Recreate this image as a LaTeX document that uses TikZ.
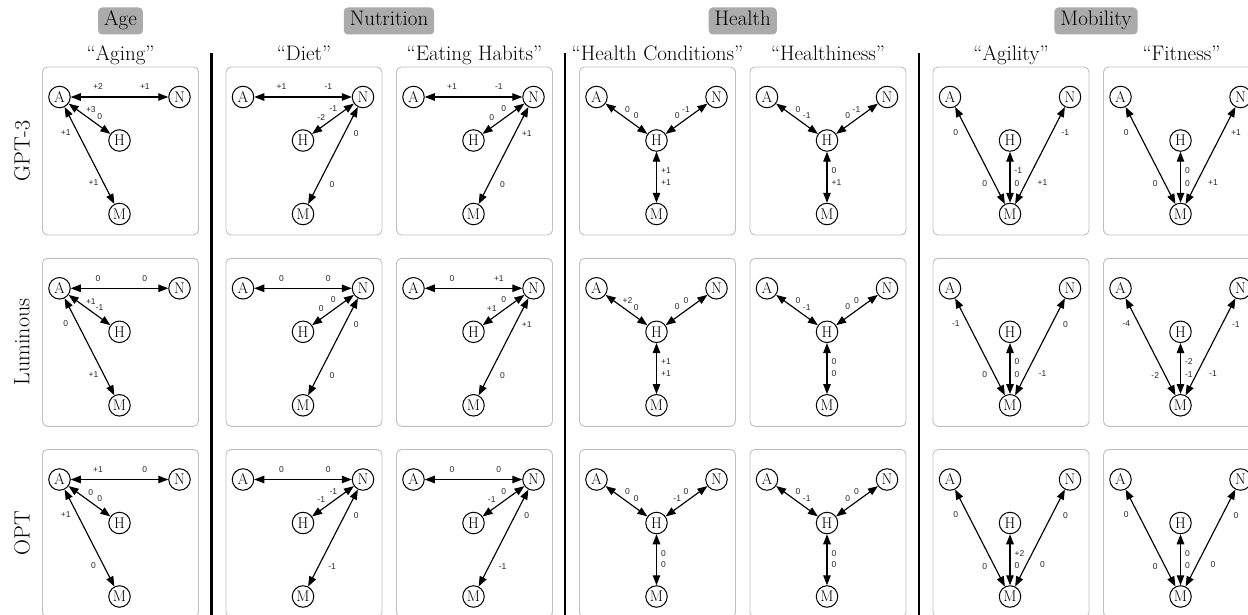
\documentclass[tikz,border=0pt]{standalone}
\usepackage{fontspec}
\newfontfamily\labfont{Liberation Sans}
\usetikzlibrary{arrows.meta}

\tikzset{
 panel/.style={draw=black!25,line width=.9pt,rounded corners=5pt},
 var/.style={circle,draw,line width=1pt,minimum size=21.5pt,inner sep=0pt,font=\fontsize{15.5}{15.5}\selectfont},
 link/.style={<->,>={Triangle[length=10pt,width=7.5pt]},line width=1.15pt},
 lab/.style={font=\labfont\fontsize{8.5}{8.5}\selectfont,text=black!85,inner sep=.5pt},
 group/.style={fill=black!33,rounded corners=4pt,font=\fontsize{21}{21}\selectfont,text height=14pt,text depth=4pt,inner xsep=6pt,inner ysep=4.5pt},
 title/.style={font=\fontsize{21}{21}\selectfont,anchor=base},
 model/.style={font=\fontsize{22}{22}\selectfont,rotate=90},
 divider/.style={line width=2.5pt},
}

%% one panel: box and the four variables
\newcommand{\vars}[3]{%
 \draw[panel] (#2,#3) rectangle ++(156,168);
 \node[var] (#1-A) at (#2+17,#3+30) {A};
 \node[var] (#1-N) at (#2+137,#3+30) {N};
 \node[var] (#1-H) at (#2+77,#3+73.5) {H};
 \node[var] (#1-M) at (#2+77,#3+147) {M};}
%% hub A: A-N, A-H, A-M (near A, near other)
\newcommand{\agelinks}[7]{%
 \draw[link] (#1-A) -- (#1-N) node[lab,pos=.28,yshift=10pt]{#2} node[lab,pos=.76,yshift=10pt]{#3};
 \draw[link] (#1-A) -- (#1-H) node[lab,pos=.42,xshift=4.7pt,yshift=6.5pt]{#4} node[lab,pos=.63,xshift=4.7pt,yshift=6.5pt]{#5};
 \draw[link] (#1-A) -- (#1-M) node[lab,pos=.21,xshift=-9.3pt,yshift=-4.8pt]{#6} node[lab,pos=.74,xshift=-8pt,yshift=-4.1pt]{#7};}
%% hub N: N-A, N-H, N-M (near N, near other)
\newcommand{\foodlinks}[7]{%
 \draw[link] (#1-N) -- (#1-A) node[lab,pos=.24,yshift=10pt]{#2} node[lab,pos=.72,yshift=10pt]{#3};
 \draw[link] (#1-N) -- (#1-H) node[lab,pos=.38,xshift=-4.7pt,yshift=6.5pt]{#4} node[lab,pos=.67,xshift=-4.7pt,yshift=6.5pt]{#5};
 \draw[link] (#1-N) -- (#1-M) node[lab,pos=.22,xshift=9.3pt,yshift=-4.8pt]{#6} node[lab,pos=.74,xshift=11pt,yshift=-5.6pt]{#7};}
%% hub H: H-A, H-N, H-M (near H, near other)
\newcommand{\healthlinks}[7]{%
 \draw[link] (#1-H) -- (#1-A) node[lab,pos=.38,xshift=4.7pt,yshift=6.5pt]{#2} node[lab,pos=.59,xshift=4.7pt,yshift=6.5pt]{#3};
 \draw[link] (#1-H) -- (#1-N) node[lab,pos=.39,xshift=-4.7pt,yshift=6.5pt]{#4} node[lab,pos=.60,xshift=-4.7pt,yshift=6.5pt]{#5};
 \draw[link] (#1-H) -- (#1-M) node[lab,anchor=west,pos=.37,xshift=3.5pt]{#6} node[lab,anchor=west,pos=.60,xshift=3.5pt]{#7};}
%% hub M: M-A, M-H, M-N (near M, near other)
\newcommand{\movelinks}[7]{%
 \draw[link] (#1-M) -- (#1-A) node[lab,pos=.25,xshift=-7.7pt,yshift=-4pt]{#2} node[lab,pos=.79,xshift=-9.8pt,yshift=-5pt]{#3};
 \draw[link] (#1-M) -- (#1-H) node[lab,anchor=west,pos=.38,xshift=3.5pt]{#4} node[lab,anchor=west,pos=.63,xshift=3.5pt]{#5};
 \draw[link] (#1-M) -- (#1-N) node[lab,pos=.29,xshift=13pt,yshift=-6.3pt]{#6} node[lab,pos=.79,xshift=11pt,yshift=-5.6pt]{#7};}

\begin{document}
\begin{tikzpicture}[x=1pt,y=-1pt]
 \useasboundingbox (0,0) rectangle (1248,615);
 %% group and prompt headings
 \node[group] (age) at (120.5,21) {Age};
 \node[group] (food) at (389,21) {Nutrition};
 \node[group] (health) at (742.75,21) {Health};
 \node[group] (move) at (1096,21) {Mobility};
 \node[title] (aging) at (120.5,61) {“Aging”};
 \node[title] (diet) at (304,61) {“Diet”};
 \node[title] (eating) at (474.5,61) {“Eating Habits”};
 \node[title] (cond) at (657.5,61) {“Health Conditions”};
 \node[title] (healthy) at (828,61) {“Healthiness”};
 \node[title] (agility) at (1011,61) {“Agility”};
 \node[title] (fitness) at (1181.5,61) {“Fitness”};
 %% model names
 \node[model] (gpt) at (22,151) {GPT-3};
 \node[model] (lum) at (22,342) {Luminous};
 \node[model] (opt) at (22,533) {OPT};
 %% dividers between groups
 \foreach \x in {211.7,565,919}{\draw[divider] (\x,53) -- (\x,615);}
 %% panels: 7 columns, 3 rows
 \foreach \y/\r in {67/1,258.3/2,449.5/3}{\foreach \x/\c in {42.5/a,226/b,396.5/c,579.5/d,750/e,933/f,1103.5/g}{\vars{\c\r}{\x}{\y}}}
 %% GPT-3
 \agelinks{a1}{+2}{+1}{+3}{0}{+1}{+1}
 \foodlinks{b1}{-1}{+1}{-1}{-2}{0}{0}
 \foodlinks{c1}{-1}{+1}{0}{0}{+1}{0}
 \healthlinks{d1}{0}{0}{0}{-1}{+1}{+1}
 \healthlinks{e1}{-1}{0}{0}{-1}{0}{+1}
 \movelinks{f1}{0}{0}{0}{-1}{+1}{-1}
 \movelinks{g1}{0}{0}{0}{0}{+1}{+1}
 %% Luminous
 \agelinks{a2}{0}{0}{+1}{-1}{0}{+1}
 \foodlinks{b2}{0}{0}{0}{0}{0}{0}
 \foodlinks{c2}{+1}{0}{0}{+1}{+1}{0}
 \healthlinks{d2}{0}{+2}{0}{0}{+1}{+1}
 \healthlinks{e2}{-1}{0}{0}{0}{0}{0}
 \movelinks{f2}{0}{-1}{0}{0}{-1}{0}
 \movelinks{g2}{-2}{-4}{-1}{-2}{-1}{-1}
 %% OPT
 \agelinks{a3}{+1}{0}{0}{0}{+1}{0}
 \foodlinks{b3}{0}{0}{-1}{-1}{0}{-1}
 \foodlinks{c3}{0}{0}{0}{-1}{0}{-1}
 \healthlinks{d3}{0}{0}{-1}{0}{0}{0}
 \healthlinks{e3}{-1}{0}{0}{0}{0}{0}
 \movelinks{f3}{0}{0}{0}{+2}{0}{0}
 \movelinks{g3}{0}{0}{0}{0}{0}{0}
\end{tikzpicture}
\end{document}
